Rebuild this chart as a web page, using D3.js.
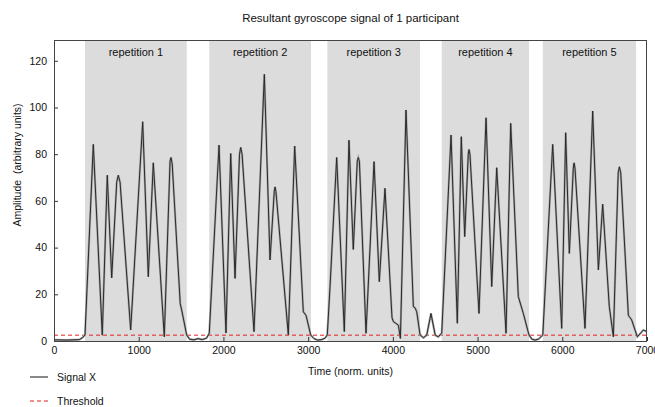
<!DOCTYPE html>
<html><head><meta charset="utf-8">
<script src="https://cdn.jsdelivr.net/npm/d3@7"></script>
<style>body{margin:0;background:#fff}svg{display:block;font-family:"Liberation Sans",Arial,sans-serif}text{white-space:pre}</style>
</head><body><svg id="c" width="655" height="407"></svg>
<script>
const title = "Resultant gyroscope signal of 1 participant";
const xLabel = "Time (norm. units)";
const yLabel = "Amplitude  (arbitrary units)";
const xTicks = [0,1000,2000,3000,4000,5000,6000,7000];
const yTicks = [0,20,40,60,80,100,120];
const repLabels = ["repetition 1","repetition 2","repetition 3","repetition 4","repetition 5"];
const repStart = [366,1833,3227,4577,5770];
const repEnd = [1567,3034,4321,5608,6871];
const threshold = 2.5;
const seriesNames = ["Signal X","Threshold"];
const time = [0,150,300,340,366,
 464,570,629,681,740,759,780,905,1047,1113,1172,1302,1370,1381,1395,1490,1507,1566,1600,1650,1700,1750,1800,1833,
 1948,2030,2086,2137,2190,2204,2220,2361,2483,2550,2600,2609,2620,2766,2841,2943,2975,3030,3070,3110,3160,3200,3226,
 3258,3337,3427,3482,3533,3580,3592,3605,3683,3778,3840,3907,3990,4006,4065,4089,4155,4242,4262,4282,4321,4360,4400,4450,4500,4537,4577,
 4687,4761,4808,4848,4890,4899,4910,5017,5100,5167,5226,5336,5391,5481,5540,5607,5640,5678,5720,5770,
 5887,5993,6040,6083,6130,6139,6150,6268,6359,6426,6477,6555,6603,6660,6674,6690,6780,6819,6886,6957,7000];
const signal = [0.5,0.4,0.6,1.5,2.6,
 84.2,2.5,71,27,68,71,68,4.7,93.9,27.5,76.3,1.8,77,78.6,76,16,13.3,2.6,0.8,0.5,1.0,0.6,1.2,3.3,
 83.9,3.4,80.3,26.8,80,82.9,80,4,114.2,34.7,64,66,64,2.6,83.5,12.5,11,2.6,1.0,0.4,0.6,1.2,2.6,
 23,78.6,4,86,39.2,77,78.6,77,3.3,76.8,25.4,65.4,10,8.3,6.8,1.1,98.9,14.7,14.2,12.5,2.6,1.4,2.5,11.8,2.5,1.8,3.4,
 88.2,7.6,87.5,44.7,80,82,80,11.8,95.6,23.3,74.2,3.3,93.2,19,11.8,2.6,0.8,0.4,0.8,2.6,
 84.2,5.4,89.2,37.5,74,76.3,74,5.4,98.5,30.4,58.6,14.7,1.8,72,74.6,72,11,9,1.8,4.7,4];

const svg = d3.select("#c");
const L=54,R=647,T=40,B=341;
const x = d3.scaleLinear().domain([0,7000]).range([L,R]);
const y = d3.scaleLinear().domain([0,128.9]).range([B,T]);

// repetition bands
const reps = repLabels.map((l,i)=>({l,s:repStart[i],e:repEnd[i]}));
svg.selectAll("rect.rep").data(reps).join("rect").attr("class","rep")
 .attr("x",d=>x(d.s)).attr("width",d=>x(d.e)-x(d.s)).attr("y",T).attr("height",B-T).attr("fill","#dcdcdc");
svg.selectAll("text.rep").data(reps).join("text").attr("class","rep")
 .attr("x",d=>(x(d.s)+x(d.e))/2).attr("y",T+16).attr("text-anchor","middle")
 .attr("font-size","11px").attr("fill","#111").text(d=>d.l);

// threshold
svg.append("line").attr("x1",x(0)).attr("x2",x(7000)).attr("y1",y(threshold)).attr("y2",y(threshold))
 .attr("stroke","#e02020").attr("stroke-width",1).attr("stroke-dasharray","4,3");

// signal
const pts = time.map((t,i)=>[t,signal[i]]);
const line = d3.line().x(d=>x(d[0])).y(d=>y(d[1]));
svg.append("path").datum(pts).attr("fill","none").attr("stroke","#a8a8a8").attr("stroke-width",2.2).attr("d",line);
svg.append("path").datum(pts).attr("fill","none").attr("stroke","#2a2a2a").attr("stroke-width",1).attr("d",line);

// axes
const xa = svg.append("g").attr("transform",`translate(0,${B})`)
 .call(d3.axisBottom(x).tickValues(xTicks).tickSizeInner(-4).tickSizeOuter(0).tickPadding(6).tickFormat(d3.format("d")));
const ya = svg.append("g").attr("transform",`translate(${L},0)`)
 .call(d3.axisLeft(y).tickValues(yTicks).tickSizeInner(-4).tickSizeOuter(0).tickPadding(7).tickFormat(d3.format("d")));
[xa,ya].forEach(a=>{a.select(".domain").remove();a.selectAll("line").attr("stroke","#333");
 a.selectAll("text").attr("font-size","10.5px").attr("fill","#111").attr("font-family","Liberation Sans, Arial, sans-serif");});

// frame
svg.append("rect").attr("x",L+0.5).attr("y",T+0.5).attr("width",R-L-1).attr("height",B-T).attr("fill","none").attr("stroke","#444");

// title and labels
svg.append("text").attr("x",(L+R)/2).attr("y",22).attr("text-anchor","middle").attr("font-size","11.5px").attr("fill","#111").text(title);
svg.append("text").attr("x",(L+R)/2).attr("y",375).attr("text-anchor","middle").attr("font-size","10.5px").attr("fill","#111").text(xLabel);
svg.append("text").attr("transform",`translate(21,165) rotate(-90)`).attr("text-anchor","middle").attr("font-size","10.5px").attr("fill","#111").text(yLabel);

// legend
const leg = [{n:seriesNames[0],c:"#111",dash:null,y:377},{n:seriesNames[1],c:"#e02020",dash:"4,3",y:401}];
leg.forEach(d=>{
 svg.append("line").attr("x1",30).attr("x2",48).attr("y1",d.y).attr("y2",d.y).attr("stroke",d.c).attr("stroke-dasharray",d.dash);
 svg.append("text").attr("x",57).attr("y",d.y+4).attr("font-size","10.5px").attr("fill","#111").text(d.n);
});
</script></body></html>
